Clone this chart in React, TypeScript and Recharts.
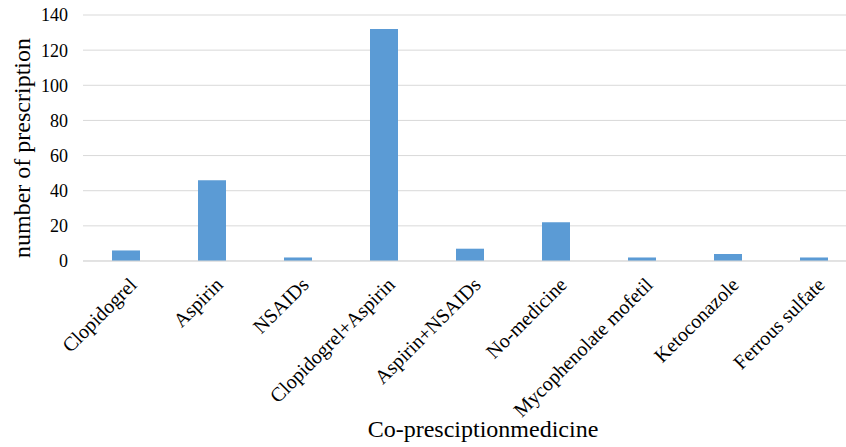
import React from "react";
import { BarChart, Bar, XAxis, YAxis, CartesianGrid, Label } from "recharts";

const categories = [
  "Clopidogrel",
  "Aspirin",
  "NSAIDs",
  "Clopidogrel+Aspirin",
  "Aspirin+NSAIDs",
  "No-medicine",
  "Mycophenolate mofetil",
  "Ketoconazole",
  "Ferrous sulfate",
];
const prescriptions = [6, 46, 2, 132, 7, 22, 2, 4, 2];
const yTicks = [0, 20, 40, 60, 80, 100, 120, 140];

const data = categories.map((name, i) => ({ name, value: prescriptions[i] }));

const FONT = "'Liberation Serif', serif";

const XTick = (props: any) => {
  const { x, y, payload } = props;
  const tx = x + 12;
  const ty = y + 17;
  return (
    <text
      x={tx}
      y={ty}
      transform={`rotate(-45, ${tx}, ${ty})`}
      textAnchor="end"
      fontFamily={FONT}
      fontSize={20}
      fill="#000"
    >
      {payload.value}
    </text>
  );
};

const renderYTitle = () => (
  <text
    x={0}
    y={0}
    transform="translate(22, 148) rotate(-90)"
    textAnchor="middle"
    dominantBaseline="central"
    fontFamily={FONT}
    fontSize={24}
    fill="#000"
  >
    number of prescription
  </text>
);

const renderXTitle = () => (
  <text
    x={483}
    y={437}
    textAnchor="middle"
    fontFamily={FONT}
    fontSize={24}
    fill="#000"
  >
    Co-presciptionmedicine
  </text>
);

export default function App() {
  return (
    <div
      style={{
        position: "fixed",
        left: 0,
        top: 0,
        width: 846,
        height: 447,
        overflow: "hidden",
        background: "#fff",
      }}
    >
      <BarChart
        width={860}
        height={447}
        data={data}
        margin={{ top: 15, right: 3, bottom: 0, left: 0 }}
        barSize={28}
      >
        <CartesianGrid vertical={false} stroke="#d9d9d9" strokeWidth={1} />
        <XAxis
          dataKey="name"
          interval={0}
          height={186}
          tickLine={false}
          axisLine={{ stroke: "#d9d9d9" }}
          tick={<XTick />}
        >
          <Label content={renderXTitle} />
        </XAxis>
        <YAxis
          width={83}
          domain={[0, 140]}
          ticks={yTicks}
          interval={0}
          axisLine={false}
          tickLine={false}
          tickSize={0}
          tickMargin={15}
          tick={{ fontFamily: FONT, fontSize: 18, fill: "#000" }}
        >
          <Label content={renderYTitle} />
        </YAxis>
        <Bar dataKey="value" fill="#5B9BD5" isAnimationActive={false} />
      </BarChart>
    </div>
  );
}
